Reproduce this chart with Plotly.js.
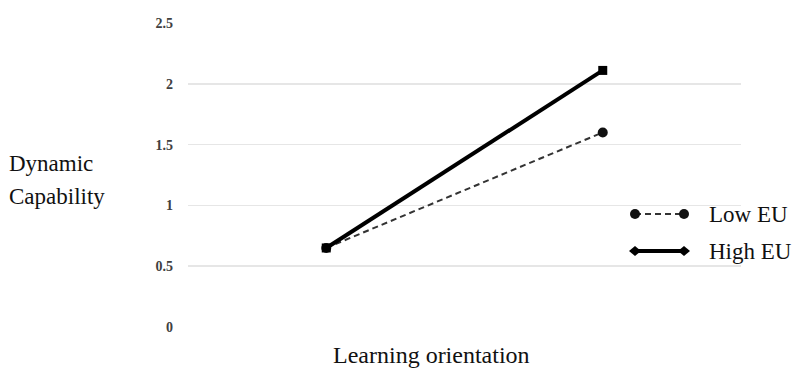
<!DOCTYPE html>
<html><head><meta charset="utf-8">
<script src="https://cdn.plot.ly/plotly-3.0.1.min.js"></script>
<style>html,body{margin:0;padding:0;background:#fff;}#chart{width:793px;height:370px;}</style>
</head><body><div id="chart"></div>
<script>
const xCats = [1, 2];
const lowEU = [0.65, 1.60];
const highEU = [0.65, 2.11];
const yTicks = [0, 0.5, 1, 1.5, 2, 2.5];
const yTickText = ['0', '0.5', '1', '1.5', '2', '2.5'];
const seriesNames = ['Low EU', 'High EU'];

const FONT = 'Liberation Serif';
const L = 188, R = 741, T = 23, B = 327;
const px = p => (p - L) / (R - L);
const py = p => (B - p) / (B - T);

const traces = [
  {x: xCats, y: lowEU, name: seriesNames[0], mode: 'lines+markers',
   line: {color: '#333', width: 2, dash: '6px,4px'},
   marker: {symbol: 'circle', size: 10, color: '#111'}},
  {x: xCats, y: highEU, name: seriesNames[1], mode: 'lines+markers',
   line: {color: '#000', width: 4},
   marker: {symbol: 'square', size: 9, color: '#000'}}
];

const shapes = [];
const annotations = [];
function legendRow(yp, dashed, marker, label) {
  shapes.push({type: 'line', xref: 'paper', yref: 'paper', x0: px(635), x1: px(684), y0: py(yp), y1: py(yp),
    line: {color: dashed ? '#333' : '#000', width: dashed ? 2 : 4, dash: dashed ? '6px,4px' : 'solid'}});
  [635, 684].forEach(cx => {
    if (marker === 'circle') {
      shapes.push({type: 'circle', xref: 'paper', yref: 'paper', x0: px(cx - 5), x1: px(cx + 5), y0: py(yp - 5), y1: py(yp + 5),
        fillcolor: '#111', line: {color: '#111', width: 0}});
    } else {
      const p = `M${px(cx - 6)},${py(yp)} L${px(cx)},${py(yp - 5)} L${px(cx + 6)},${py(yp)} L${px(cx)},${py(yp + 5)} Z`;
      shapes.push({type: 'path', xref: 'paper', yref: 'paper', path: p, fillcolor: '#000', line: {color: '#000', width: 0}});
    }
  });
  annotations.push({xref: 'paper', yref: 'paper', x: px(707), y: py(yp), xanchor: 'left', yanchor: 'middle',
    text: label, showarrow: false, font: {family: FONT, size: 23, color: '#111'}});
}
legendRow(214, true, 'circle', seriesNames[0]);
legendRow(251, false, 'diamond', seriesNames[1]);

annotations.push({xref: 'paper', yref: 'paper', x: px(7), y: py(163), xanchor: 'left', yanchor: 'middle',
  text: 'Dynamic', showarrow: false, font: {family: FONT, size: 23, color: '#111'}});
annotations.push({xref: 'paper', yref: 'paper', x: px(7), y: py(196), xanchor: 'left', yanchor: 'middle',
  text: 'Capability', showarrow: false, font: {family: FONT, size: 23, color: '#111'}});
annotations.push({xref: 'paper', yref: 'paper', x: px(431), y: py(370), xanchor: 'center', yanchor: 'bottom',
  text: 'Learning orientation', showarrow: false, font: {family: FONT, size: 24, color: '#111'}});

const layout = {
  width: 793, height: 370,
  margin: {l: L, r: 793 - R, t: T, b: 370 - B, pad: 0},
  paper_bgcolor: '#fff', plot_bgcolor: '#fff',
  showlegend: false,
  xaxis: {range: [0.5, 2.5], showgrid: false, zeroline: false, showline: false, showticklabels: false, ticks: ''},
  yaxis: {range: [0, 2.5], tickvals: yTicks, ticktext: yTickText, showgrid: true, gridcolor: '#e6e6e6', gridwidth: 1.5,
    zeroline: false, showline: false, ticks: '', ticklabelstandoff: 14,
    tickfont: {family: FONT, size: 14, color: '#404040', weight: 'bold'}},
  shapes: shapes,
  annotations: annotations
};
Plotly.newPlot('chart', traces, layout, {displayModeBar: false, staticPlot: true});
</script></body></html>
